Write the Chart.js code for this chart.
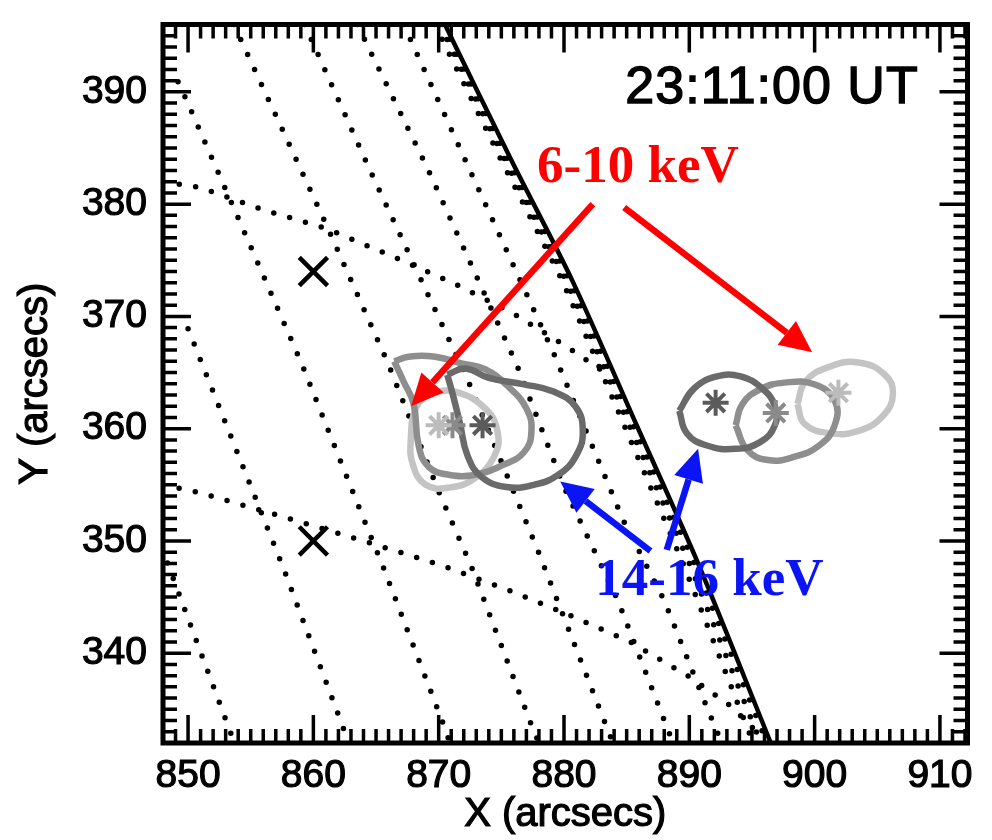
<!DOCTYPE html>
<html>
<head>
<meta charset="utf-8">
<script src="https://cdn.jsdelivr.net/npm/chart.js@4.4.1/dist/chart.umd.min.js"></script>
<style>
  html, body { margin: 0; padding: 0; background: #fff; }
</style>
</head>
<body>
<canvas id="chart" width="992" height="840"></canvas>
<script>
const xTicks = [850, 860, 870, 880, 890, 900, 910];
const yTicks = [340, 350, 360, 370, 380, 390];

// solar limb, arcsec
const limb = [[870.5, 396], [875.8, 383.9], [880.7, 373.1], [885.8, 360.3], [890.7, 348.0], [896.5, 332.0]];

// heliographic grid (dotted)
const gridLines = [
  [[847.9, 349.4], [853.7, 332.0]],
  [[850.0, 368.9], [855.1, 354.6], [857.6, 347.6], [862.3, 333.6], [862.8, 332.0]],
  [[849.2, 390.9], [849.9, 389.2], [854.3, 378.0], [859.1, 365.7], [863.6, 353.1], [865.6, 347.6], [870.4, 333.6], [870.9, 332.0]],
  [[853.65, 396], [861.1, 378.0], [866.0, 365.7], [870.0, 354.4], [872.65, 347.6], [877.4, 333.6], [878.0, 332.0]],
  [[859.3, 396], [864.4, 383.3], [872.3, 364.4], [878.0, 348.9], [883.9, 332.0]],
  [[863.5, 396], [869.1, 383.2], [876.3, 365.5], [880.0, 354.8], [884.3, 344.7], [888.7, 332.0]],
  [[867.2, 396], [872.5, 383.0], [879.3, 366.4], [884.7, 351.9], [888.0, 344.7], [891.5, 334.9], [892.6, 332.0]],
  [[869.7, 396], [875.0, 383.9], [879.9, 373.1], [884.8, 360.3], [889.5, 348.0], [895.1, 332.0]],
  [[870.1, 396], [875.3, 383.9], [880.2, 373.1], [885.2, 360.3], [890.0, 348.0], [895.7, 332.0]],
  [[870.3, 396], [875.55, 383.9], [880.5, 373.1], [885.5, 360.3], [890.4, 348.0], [896.2, 332.0]],
  [[848.0, 382.0], [850.9, 381.5], [856.0, 379.5], [861.1, 377.8], [866.2, 375.4], [871.1, 373.0], [875.9, 370.3], [880.5, 367.1], [883.9, 364.5]],
  [[848.0, 355.0], [850.9, 354.3], [856.2, 352.6], [861.35, 350.9], [866.45, 349.15], [870.4, 347.75], [875.5, 345.65], [880.2, 343.5], [885.3, 341.0], [890.0, 337.9], [893.3, 335.3], [895.65, 332.7]]
];

// source contours
const leftMedium = [[866.45, 366.0], [867.6, 366.4], [869.7, 366.4], [871.9, 365.8], [873.7, 365.3], [875.5, 363.8], [877.0, 361.8], [877.4, 359.7], [876.8, 357.9], [875.2, 356.8], [872.9, 355.9], [870.8, 355.9], [869.2, 356.6], [868.4, 358.5], [868.0, 362.2], [867.2, 364.2]];
const leftLight = [[869.2, 363.2], [871.3, 363.3], [873.7, 361.8], [874.7, 359.7], [874.45, 357.6], [872.9, 355.6], [870.8, 354.75], [868.96, 355.0], [867.94, 356.8], [867.78, 359.1], [868.17, 361.8]];
const leftDark = [[870.69, 364.8], [872.1, 365.35], [874.06, 364.5], [876.8, 363.95], [879.16, 363.3], [880.9, 362.0], [881.5, 359.8], [880.97, 357.6], [879.56, 355.9], [877.6, 355.0], [875.4, 354.8], [873.43, 355.7], [872.3, 357.6], [871.7, 360.45], [871.16, 362.9]];
const rightDark = [[889.2, 361.6], [890.4, 363.6], [892.2, 364.65], [894.1, 364.65], [895.8, 363.6], [896.83, 362.0], [896.83, 360.3], [895.65, 358.8], [893.7, 358.2], [891.4, 358.5], [889.8, 359.6]];
const rightMedium = [[893.7, 360.3], [894.24, 362.2], [895.65, 363.5], [897.6, 364.1], [899.97, 363.95], [901.6, 362.5], [901.6, 360.3], [900.36, 358.5], [898.4, 357.5], [896.28, 357.2], [894.63, 358.1]];
const rightLight = [[898.63, 362.2], [899.26, 364.2], [901.14, 365.5], [903.5, 365.9], [905.6, 364.8], [906.25, 363.1], [905.46, 361.15], [903.5, 359.8], [901.14, 359.6], [899.18, 360.45]];

// centroids
const starsDark = [[873.5, 360.3], [892.1, 362.3]];
const starsMedium = [[871.1, 360.3], [896.9, 361.4]];
const starsLight = [[870.0, 360.3], [901.9, 363.2]];

// footpoint markers
const xMarks = [[860, 374], [860, 350]];

// annotations
const arrows = [
  { from: [882.3, 380.0], to: [867.8, 362.0], color: '#ff0000' },
  { from: [884.8, 379.7], to: [899.8, 366.8], color: '#ff0000' },
  { from: [886.9, 349.1], to: [879.7, 355.3], color: '#0a14f5' },
  { from: [888.2, 349.2], to: [890.7, 358.2], color: '#0a14f5' }
];
const labels = [
  { text: '6-10 keV', at: [885.9, 383.2], color: '#ff0000', font: 'bold 53px "Liberation Serif"', stroke: 0 },
  { text: '14-16 keV', at: [891.6, 346.4], color: '#0a14f5', font: 'bold 53px "Liberation Serif"', stroke: 0 },
  { text: '23:11:00 UT', at: [896.6, 390.3], color: '#000', font: '52px "Liberation Sans"', stroke: 1.4, spacing: '1px' }
];

const pts = arr => arr.map(([x, y]) => ({ x, y }));
const loop = arr => pts(arr.concat([arr[0]]));

const datasets = [];
datasets.push({ data: pts(xMarks), showLine: false, pointStyle: 'crossRot', pointRadius: 20,
  borderColor: '#000', borderWidth: 4.5, order: 0 });
[[starsLight, '#bcbcbc'], [starsMedium, '#8a8a8a'], [starsDark, '#5a5a5a']].forEach(([s, c]) => {
  datasets.push({ data: pts(s), showLine: false, pointStyle: 'star', pointRadius: 13,
    borderColor: c, borderWidth: 4, order: 1 });
});
[[leftLight, '#c4c4c4'], [rightLight, '#c4c4c4'], [leftMedium, '#8e8e8e'], [rightMedium, '#8e8e8e'],
 [leftDark, '#6a6a6a'], [rightDark, '#6a6a6a']].forEach(([c, col], i) => {
  datasets.push({ data: loop(c), showLine: true, tension: 0.45, pointRadius: 0,
    borderColor: col, borderWidth: 6.5, order: 4 - Math.floor(i / 2) });
});
datasets.push({ data: pts(limb), showLine: true, tension: 0.3, pointRadius: 0,
  borderColor: '#000', borderWidth: 4.5, order: 6 });
gridLines.forEach(g => {
  datasets.push({ data: pts(g), showLine: true, tension: 0, pointRadius: 0,
    borderColor: '#000', borderWidth: 5.5, borderDash: [0, 16.5], borderCapStyle: 'round', order: 7 });
});

const frameTicks = {
  id: 'frameTicks',
  afterDraw(chart) {
    const { ctx, chartArea: a, scales: { x, y } } = chart;
    ctx.save();
    ctx.strokeStyle = '#000';
    ctx.lineWidth = 3.5;
    ctx.beginPath();
    for (let v = Math.ceil(x.min); v <= x.max; v++) {
      const p = x.getPixelForValue(v);
      const len = v % 10 === 0 ? 28 : 14;
      ctx.moveTo(p, a.bottom); ctx.lineTo(p, a.bottom - len);
      ctx.moveTo(p, a.top); ctx.lineTo(p, a.top + len);
    }
    for (let v = Math.ceil(y.min); v <= y.max; v++) {
      const p = y.getPixelForValue(v);
      const len = v % 10 === 0 ? 28 : 14;
      ctx.moveTo(a.left, p); ctx.lineTo(a.left + len, p);
      ctx.moveTo(a.right, p); ctx.lineTo(a.right - len, p);
    }
    ctx.stroke();
    ctx.lineWidth = 5;
    ctx.strokeRect(a.left, a.top, a.right - a.left, a.bottom - a.top);

    // axis titles
    ctx.font = '40px "Liberation Sans"';
    ctx.fillStyle = '#000';
    ctx.lineWidth = 1.2;
    ctx.textAlign = 'center';
    ctx.textBaseline = 'middle';
    const cx = (a.left + a.right) / 2;
    ctx.fillText('X (arcsecs)', cx, 815);
    ctx.strokeText('X (arcsecs)', cx, 815);
    ctx.translate(36, (a.top + a.bottom) / 2);
    ctx.rotate(-Math.PI / 2);
    ctx.fillText('Y (arcsecs)', 0, 0);
    ctx.strokeText('Y (arcsecs)', 0, 0);
    ctx.restore();
  }
};

const notes = {
  id: 'notes',
  afterDatasetsDraw(chart) {
    const { ctx, scales: { x, y } } = chart;
    ctx.save();
    arrows.forEach(ar => {
      const x0 = x.getPixelForValue(ar.from[0]), y0 = y.getPixelForValue(ar.from[1]);
      const x1 = x.getPixelForValue(ar.to[0]), y1 = y.getPixelForValue(ar.to[1]);
      const ang = Math.atan2(y1 - y0, x1 - x0);
      const head = 32, half = 15;
      const bx = x1 - head * Math.cos(ang), by = y1 - head * Math.sin(ang);
      ctx.strokeStyle = ar.color;
      ctx.fillStyle = ar.color;
      ctx.lineWidth = 6.5;
      ctx.beginPath(); ctx.moveTo(x0, y0); ctx.lineTo(bx, by); ctx.stroke();
      ctx.beginPath();
      ctx.moveTo(x1, y1);
      ctx.lineTo(bx + half * Math.sin(ang), by - half * Math.cos(ang));
      ctx.lineTo(bx - half * Math.sin(ang), by + half * Math.cos(ang));
      ctx.closePath();
      ctx.fill();
    });
    labels.forEach(l => {
      ctx.font = l.font;
      ctx.fillStyle = l.color;
      ctx.strokeStyle = l.color;
      ctx.letterSpacing = l.spacing || '0px';
      ctx.textAlign = 'center';
      ctx.textBaseline = 'middle';
      const px = x.getPixelForValue(l.at[0]), py = y.getPixelForValue(l.at[1]);
      ctx.fillText(l.text, px, py);
      if (l.stroke) { ctx.lineWidth = l.stroke; ctx.strokeText(l.text, px, py); }
    });
    ctx.restore();
  }
};

const tickFont = { family: 'Liberation Sans', size: 39 };

new Chart(document.getElementById('chart'), {
  type: 'scatter',
  data: { datasets },
  options: {
    responsive: false,
    animation: false,
    devicePixelRatio: 1,
    layout: { padding: { top: 12, right: 11, left: 0, bottom: 0 } },
    plugins: { legend: { display: false }, tooltip: { enabled: false } },
    scales: {
      x: {
        type: 'linear',
        min: 848,
        max: 912.2,
        grid: { display: false, drawTicks: false },
        border: { display: false },
        afterBuildTicks: s => { s.ticks = xTicks.map(v => ({ value: v })); },
        afterFit: s => { s.height = 97; s.paddingLeft = 0; s.paddingRight = 0; },
        ticks: { font: tickFont, color: '#000', padding: 10, maxRotation: 0, autoSkip: false,
          textStrokeColor: '#000', textStrokeWidth: 1.2 }
      },
      y: {
        type: 'linear',
        min: 332,
        max: 396,
        grid: { display: false, drawTicks: false },
        border: { display: false },
        afterBuildTicks: s => { s.ticks = yTicks.map(v => ({ value: v })); },
        afterFit: s => { s.width = 163; s.paddingTop = 0; s.paddingBottom = 0; },
        ticks: { font: tickFont, color: '#000', padding: 16, autoSkip: false,
          textStrokeColor: '#000', textStrokeWidth: 1.2 }
      }
    }
  },
  plugins: [frameTicks, notes]
});
</script>
</body>
</html>
